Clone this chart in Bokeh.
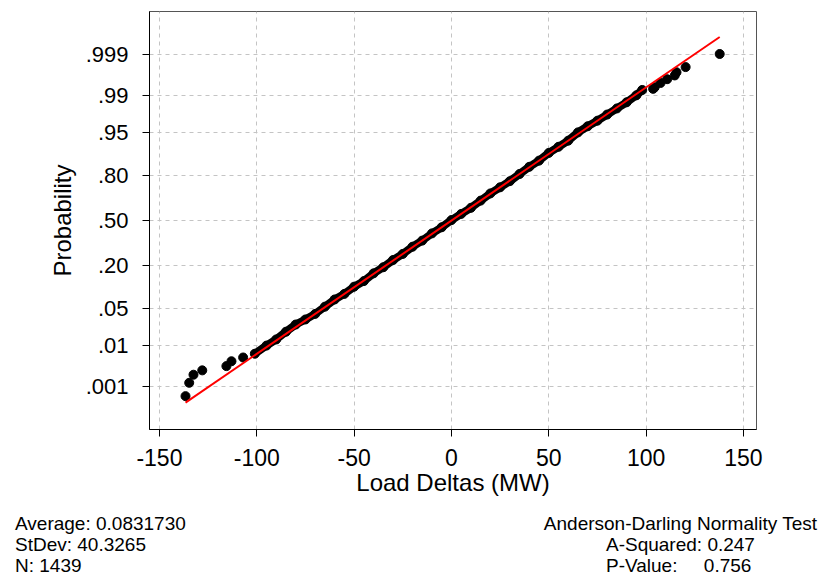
from statistics import NormalDist
from bokeh.plotting import figure
from bokeh.layouts import column
from bokeh.models import FixedTicker, Range1d, ColumnDataSource, Div
from bokeh.embed import file_html
from bokeh.resources import INLINE

# ---------------- data ----------------
prob_ticks = [0.001, 0.01, 0.05, 0.20, 0.50, 0.80, 0.95, 0.99, 0.999]
prob_labels = [".001", ".01", ".05", ".20", ".50", ".80", ".95", ".99", ".999"]
x_ticks = [-150, -100, -50, 0, 50, 100, 150]
x_labels = ["-150", "-100", "-50", "0", "50", "100", "150"]

low_tail_x = [-136.6, -134.7, -132.5, -128.0, -115.6, -113.0, -107.0]
low_tail_p = [0.00054, 0.00126, 0.00205, 0.00264, 0.00336, 0.00440, 0.00539]

band_x = [-101, -95, -90, -85, -80, -75, -70, -65, -60, -55, -50, -45, -40,
          -35, -30, -25, -20, -15, -10, -5, 0, 5, 10, 15, 20, 25, 30, 35,
          40, 45, 50, 55, 60, 65, 70, 75, 80, 85, 90, 95, 98]
band_p = [0.00657, 0.00995, 0.01342, 0.01923, 0.02643, 0.03274, 0.0411,
          0.0544, 0.0708, 0.0860, 0.1090, 0.1297, 0.1626, 0.1922, 0.2309,
          0.2670, 0.3128, 0.3542, 0.4052, 0.4499, 0.5032, 0.5486, 0.5933,
          0.6443, 0.6929, 0.7317, 0.7679, 0.8068, 0.8413, 0.8674, 0.8958,
          0.9150, 0.9314, 0.9495, 0.9603, 0.9684, 0.9757, 0.9815, 0.9861,
          0.9901, 0.99245]

high_tail_x = [103.6, 104.4, 107.4, 110.8, 114.7, 115.6, 120.3, 137.8]
high_tail_p = [0.99286, 0.99343, 0.99477, 0.99573, 0.99653, 0.99711,
               0.99785, 0.99903]

average = 0.0831730
stdev = 40.3265
n_obs = 1439
a_squared = 0.247
p_value = 0.756

# ---------------- helpers ----------------
nd = NormalDist()
to_z = lambda ps: [nd.inv_cdf(v) for v in ps]

FONT = "Liberation Sans"
W = 814

p = figure(frame_width=607, frame_height=418, output_backend="svg",
           toolbar_location=None,
           x_range=Range1d(-155.1, 156.7), y_range=Range1d(-3.89, 3.89),
           min_border_left=149, min_border_right=58, min_border_top=11,
           min_border_bottom=68)
p.background_fill_color = "white"
p.border_fill_color = "white"
p.outline_line_color = "#555555"
p.outline_line_width = 1

# axes
tick_z = to_z(prob_ticks)
p.yaxis.ticker = FixedTicker(ticks=tick_z)
p.yaxis.major_label_overrides = {z: lab for z, lab in zip(tick_z, prob_labels)}
p.xaxis.ticker = FixedTicker(ticks=x_ticks)
p.xaxis.major_label_overrides = {t: lab for t, lab in zip(x_ticks, x_labels)}
for ax in (p.xaxis, p.yaxis):
    ax.axis_line_color = "black"
    ax.major_tick_line_color = "black"
    ax.major_tick_out = 7
    ax.major_tick_in = 0
    ax.minor_tick_line_color = None
    ax.major_label_text_font = FONT
    ax.major_label_text_font_size = "23px"
    ax.major_label_text_color = "black"
    ax.axis_label_text_font = FONT
    ax.axis_label_text_font_size = "24px"
    ax.axis_label_text_font_style = "normal"
    ax.axis_label_text_color = "black"
p.yaxis.major_label_text_font_size = "22px"
p.xaxis.axis_label = "Load Deltas (MW)"
p.yaxis.axis_label = "Probability"
p.xaxis.major_label_standoff = 12
p.xaxis.axis_label_standoff = 0
p.yaxis.major_label_standoff = 14
p.yaxis.axis_label_standoff = 7

for g in (p.xgrid, p.ygrid):
    g.grid_line_color = "#c4c4c4"
    g.grid_line_dash = "4 4"
    g.grid_line_width = 1
p.ygrid.ticker = FixedTicker(ticks=tick_z)
p.xgrid.ticker = FixedTicker(ticks=x_ticks)

# data points
band_src = ColumnDataSource(dict(x=band_x, y=to_z(band_p)))
p.line("x", "y", source=band_src, line_color="black", line_width=8)
p.scatter("x", "y", source=band_src, size=9, color="black")
tail_src = ColumnDataSource(dict(x=low_tail_x + high_tail_x,
                                 y=to_z(low_tail_p + high_tail_p)))
p.scatter("x", "y", source=tail_src, size=9, color="black")

# fitted normal line
all_x = low_tail_x + band_x + high_tail_x
fit_x = [min(all_x), max(all_x)]
fit_y = [(v - average) / stdev for v in fit_x]
p.line(fit_x, fit_y, line_color="red", line_width=2)

# ---------------- statistics text below the plot ----------------
H2 = 70
def span(text, top, left=None, right=None):
    pos = f"left:{left}px;" if left is not None else f"right:{right}px;"
    return (f'<span style="position:absolute;{pos}top:{top}px;'
            f'white-space:pre;">{text}</span>')

html = (
    f'<div style="position:relative;width:{W}px;height:{H2}px;'
    f"font-family:'{FONT}',sans-serif;font-size:19px;line-height:20px;"
    f'color:#000;">'
    + span(f"Average: {average:.7f}", 11, left=10)
    + span(f"StDev: {stdev:.4f}", 32, left=10)
    + span(f"N: {n_obs}", 53, left=10)
    + span("Anderson-Darling Normality Test", 11, right=2)
    + span(f"A-Squared: {a_squared:.3f}", 32, left=601)
    + span(f"P-Value:     {p_value:.3f}", 53, left=601)
    + "</div>"
)
stats = Div(text=html, width=W, height=H2)

layout = column(p, stats, spacing=0)
open("out.html", "w").write(file_html(layout, INLINE))
